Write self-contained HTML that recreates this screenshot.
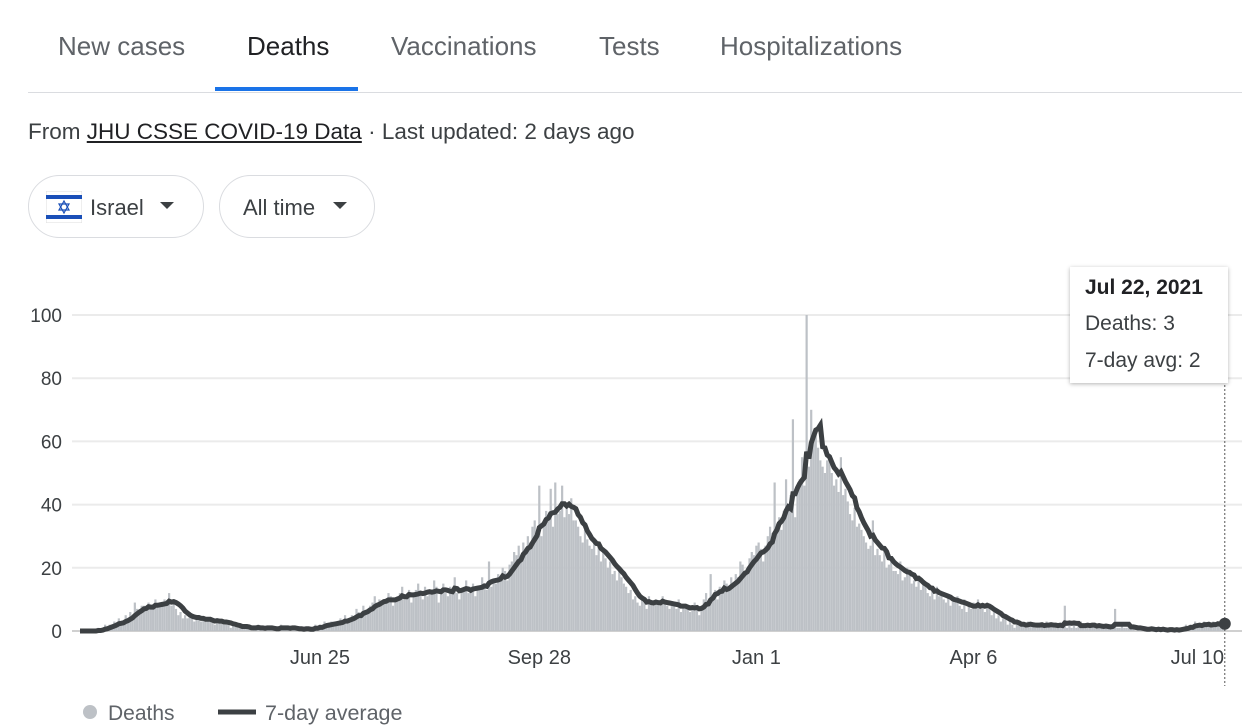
<!DOCTYPE html>
<html><head><meta charset="utf-8"><style>
body{margin:0;width:1242px;height:728px;overflow:hidden;background:#fff;font-family:"Liberation Sans",Arial,sans-serif;position:relative}
.tab{position:absolute;top:31px;font-size:26px;color:#5f6368}
.chip{position:absolute;top:175px;height:63px;border:1px solid #dadce0;border-radius:33px;box-sizing:border-box;font-size:22px;color:#3c4043}
</style></head><body>
<div class="tab" style="left:58px">New cases</div>
<div class="tab" style="left:247px;color:#202124">Deaths</div>
<div class="tab" style="left:391px">Vaccinations</div>
<div class="tab" style="left:599px">Tests</div>
<div class="tab" style="left:720px">Hospitalizations</div>
<div style="position:absolute;left:215px;top:87px;width:143px;height:4px;background:#1a73e8"></div>
<div style="position:absolute;left:28px;top:92px;width:1214px;height:1px;background:#dadce0"></div>
<div style="position:absolute;left:28px;top:119px;font-size:22.5px;color:#3c4043">From <span style="text-decoration:underline;color:#202124">JHU CSSE COVID-19 Data</span> · Last updated: 2 days ago</div>
<div class="chip" style="left:28px;width:176px">
<svg style="position:absolute;left:17px;top:15px" width="36" height="32"><rect width="36" height="32" fill="#fff" stroke="#ddd"/><rect y="4" width="36" height="4" fill="#1a4fb8"/><rect y="24" width="36" height="4" fill="#1a4fb8"/><polygon points="18,10 23,19 13,19" fill="none" stroke="#1a4fb8" stroke-width="1.2"/><polygon points="18,22 23,13 13,13" fill="none" stroke="#1a4fb8" stroke-width="1.2"/></svg>
<span style="position:absolute;left:61px;top:19px">Israel</span><span style="position:absolute;left:131px;top:26px;border-left:7px solid transparent;border-right:7px solid transparent;border-top:7px solid #3c4043"></span></div>
<div class="chip" style="left:219px;width:156px"><span style="position:absolute;left:23px;top:19px">All time</span><span style="position:absolute;left:113px;top:26px;border-left:7px solid transparent;border-right:7px solid transparent;border-top:7px solid #3c4043"></span></div>
<svg id="chart" width="1242" height="728" style="position:absolute;left:0;top:0"></svg>
<div style="position:absolute;left:1070px;top:267px;width:158px;height:116px;background:#fff;box-shadow:0 1px 4px rgba(0,0,0,.3);font-size:21px;color:#202124">
<div style="position:absolute;left:15px;top:9px;font-weight:bold">Jul 22, 2021</div>
<div style="position:absolute;left:15px;top:45px;color:#3c4043">Deaths: 3</div>
<div style="position:absolute;left:15px;top:82px;color:#3c4043">7-day avg: 2</div></div>
<svg style="position:absolute;left:0;top:690px" width="420" height="38">
<circle cx="90" cy="22" r="7" fill="#bdc1c6"/>
<text x="108" y="30" font-size="21" fill="#5f6368" font-family="Liberation Sans, sans-serif">Deaths</text>
<line x1="218" y1="22" x2="256" y2="22" stroke="#3c4043" stroke-width="5"/>
<text x="265" y="30" font-size="21.5" fill="#5f6368" font-family="Liberation Sans, sans-serif">7-day average</text></svg>
<script>
const deaths=[0,0,0,0,0,0,0, 0,1,0,1,2,1,2, 2,3,2,4,3,2,5, 4,6,5,9,7,6,8, 8,7,9,8,7,10,8, 9,8,10,9,12,8,9, 7,5,6,4,5,4,5, 4,3,5,4,3,4,3, 4,3,3,2,4,3,3, 2,3,2,1,2,2,1,
1,1,2,1,1,0,1, 1,2,1,1,0,1,1, 1,1,0,1,2,1,1, 1,0,1,1,1,0,1, 0,1,1,0,1,2,1, 2,1,3,2,2,3,2, 3,2,4,3,5,3,4, 5,4,7,6,5,8,6, 7,8,9,11,8,10,9, 10,9,12,11,8,10,11,
12,14,10,11,13,9,11, 13,15,12,10,14,11,12, 12,16,14,9,13,15,12, 11,14,13,17,12,10,13, 13,16,12,14,15,11,14, 14,17,15,13,22,14,16, 15,18,17,20,19,16,21, 22,25,24,27,23,28,26, 30,28,33,35,31,46,30, 34,38,36,45,33,47,37,
38,46,36,40,37,42,35, 35,33,30,28,32,29,27, 26,28,24,27,22,25,23, 20,22,18,19,16,20,17, 15,14,12,13,10,11,9, 8,10,9,7,11,9,8, 10,9,8,11,9,8,7, 9,8,7,10,6,8,7, 7,6,8,9,7,5,8, 10,12,9,18,11,13,10,
14,13,16,15,13,17,14, 18,17,22,21,19,20,23, 25,24,27,28,26,22,27, 30,33,31,47,34,36,32, 38,48,40,43,67,36,45, 48,55,46,100,52,70,60, 62,58,54,52,50,54,56, 50,46,48,44,55,43,45, 41,37,35,39,33,34,32, 30,28,26,27,35,24,26,
24,22,25,20,21,23,19, 19,18,22,16,17,20,18, 15,16,14,17,13,15,14, 12,11,13,10,14,11,12, 10,9,11,8,10,9,11, 8,7,10,6,8,7,9, 8,10,7,8,6,9,7, 5,6,4,5,3,4,5, 2,3,2,1,3,2,2, 2,1,3,2,2,1,2,
2,2,1,3,2,2,1, 2,1,2,2,8,1,2, 1,2,1,2,3,1,2, 2,1,2,2,1,2,1, 1,2,1,1,2,7,1, 1,2,1,1,2,1,1, 0,1,1,0,1,0,1, 1,0,0,1,0,1,0, 0,1,0,0,1,0,1, 1,2,1,2,1,3,2, 2,1,3,2,2,1,3, 2,3,2,2,3];
const yTicks=[0,20,40,60,80,100];
const xTickLabels=["Jun 25","Sep 28","Jan 1","Apr 6","Jul 10"];
const xTickDays=[105,201,296,391,489];
const svg=document.getElementById('chart'),NS='http://www.w3.org/2000/svg';
const X0=80,DX=2.285,Y0=631,PY=3.16;
const x=d=>X0+d*DX, y=v=>Y0-v*PY;
function mk(t,a,p){const e=document.createElementNS(NS,t);for(const k in a)e.setAttribute(k,a[k]);(p||svg).appendChild(e);return e;}
yTicks.forEach(v=>{
 const g=mk('line',{x1:72,x2:1242,y1:y(v),y2:y(v),stroke:v?'#ebebeb':'#d0d0d0','stroke-width':2});
 
 
 const t=mk('text',{x:62,y:y(v)+7,'text-anchor':'end','font-size':19,fill:'#3c4043','font-family':'Liberation Sans, sans-serif'});
 t.textContent=v;
 
 
});
xTickDays.forEach((d,i)=>{
 const t=mk('text',{x:x(d),y:664,'text-anchor':'middle','font-size':20,fill:'#3c4043','font-family':'Liberation Sans, sans-serif'});
 t.textContent=xTickLabels[i];
 
 
});
deaths.forEach((v,d)=>{
 if(!v)return;
 const b=mk('rect',{x:x(d)-1.1,y:y(v),width:2.2,height:v*PY,fill:'#bdc1c6'});
 
 
});
const avg=deaths.map((v,i)=>{const s=deaths.slice(Math.max(0,i-6),i+1);return s.reduce((a,b)=>a+b,0)/s.length;});
const pl=mk('polyline',{points:avg.map((v,d)=>x(d)+','+y(v)).join(' '),fill:'none',stroke:'#3c4043','stroke-width':5,'stroke-linejoin':'miter'});


const last=deaths.length-1;
const vl=mk('line',{x1:x(last),x2:x(last),y1:385,y2:686,stroke:'#555','stroke-width':1,'stroke-dasharray':'2,2'});


const dot=mk('circle',{cx:x(last),cy:y(avg[last]),r:6,fill:'#3c4043'});


</script>
</body></html>
